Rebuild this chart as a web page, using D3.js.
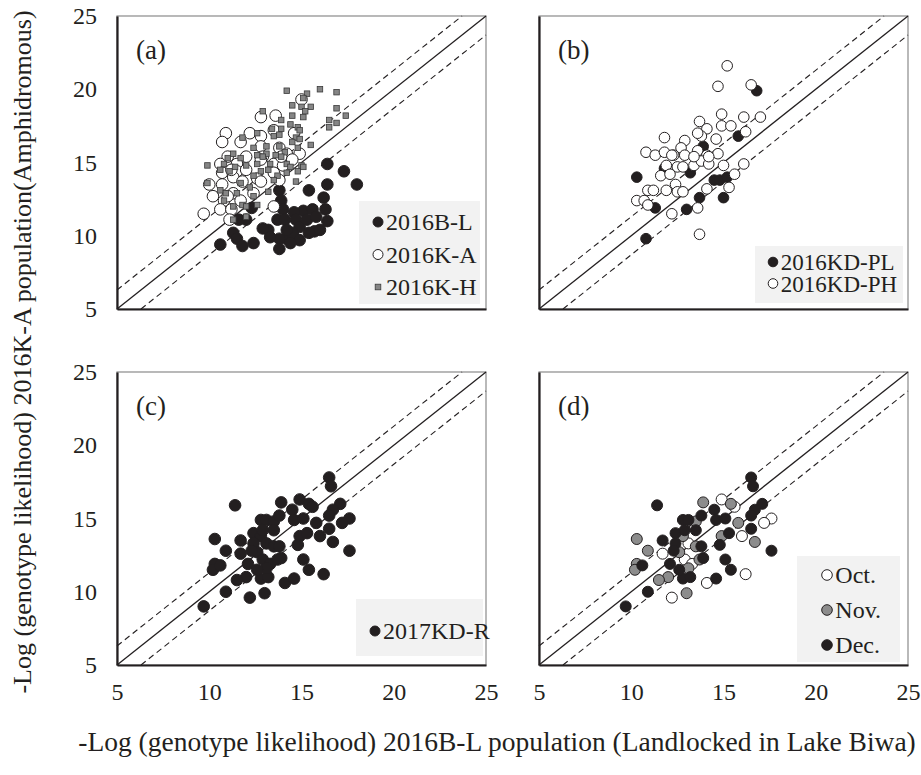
<!DOCTYPE html>
<html>
<head>
<meta charset="utf-8">
<script src="https://cdn.jsdelivr.net/npm/d3@7"></script>
<style>
body { margin: 0; background: #fff; }
text { font-family: "Liberation Serif", "Times New Roman", serif; fill: #231f20; }
</style>
</head>
<body>
<svg id="chart" width="921" height="775"></svg>
<script>
// axis values shared by every panel
var ticks = [5, 10, 15, 20, 25]
var domain = [5, 25]
var band = 1.3   // dashed lines at y = x +/- band

// (a) 2016B-L, 2016K-A, 2016K-H
var a_BL = [[16.4,14.9],[17.3,14.4],[18.0,13.5],[16.4,13.5],[15.4,13.1],[13.8,13.1],[13.9,12.4],[16.2,12.6],
  [16.3,11.8],[15.1,11.7],[14.6,11.6],[15.6,11.8],[12.3,11.9],[14.0,11.8],[13.7,11.1],[14.1,11.1],[13.2,10.4],
  [14.7,11.1],[14.9,10.6],[15.3,11.1],[16.4,11.0],[15.7,10.3],[15.4,10.2],[14.6,9.9],[14.2,9.8],[13.8,9.8],
  [13.3,9.9],[12.9,10.5],[12.0,11.1],[11.6,11.1],[11.3,10.2],[11.5,9.8],[11.8,9.3],[12.4,9.5],[10.6,9.4],
  [13.8,9.1],[14.5,10.2],[16.0,10.4],[14.9,9.7],[14.4,9.5],[14.2,10.4],[15.8,11.3]]
var a_KA = [[15.0,19.3],[12.8,18.1],[13.6,18.2],[10.9,17.0],[12.2,17.0],[10.7,16.4],[11.7,16.4],[12.8,16.8],
  [13.5,17.2],[14.6,17.0],[12.8,16.1],[13.8,16.0],[14.9,15.6],[14.2,15.6],[12.0,15.4],[11.0,15.4],[10.6,14.9],
  [11.5,14.9],[11.5,14.4],[12.0,14.5],[12.9,15.4],[13.5,14.9],[14.0,14.8],[10.7,14.3],[11.3,14.0],[12.6,13.9],
  [13.5,14.3],[10.0,13.5],[10.7,13.5],[11.3,12.9],[10.2,12.7],[10.8,12.4],[11.7,12.4],[9.7,11.5],[10.6,11.8],
  [11.2,11.8],[11.1,11.1],[13.5,12.0],[12.8,13.7],[11.8,13.7],[11.0,12.7],[12.4,12.9],[13.8,13.8],[13.9,15.4],
  [12.8,15.2],[11.2,14.5],[14.5,15.2]]
var a_KH = [[14.2,19.9],[15.3,19.7],[16.0,20.0],[16.9,19.8],[15.1,19.4],[14.5,18.9],[15.0,18.8],[15.5,18.8],
  [15.2,18.5],[12.9,18.5],[14.5,18.2],[15.1,18.1],[16.9,18.7],[17.4,18.2],[16.5,17.9],[16.5,17.4],[16.9,17.7],
  [13.9,17.9],[14.4,17.6],[14.8,17.4],[13.4,17.3],[13.9,17.3],[14.9,17.2],[12.6,17.0],[13.5,16.8],[11.8,16.7],
  [13.8,16.9],[14.7,16.7],[14.9,16.6],[14.5,16.4],[15.5,16.2],[12.4,16.0],[13.1,16.1],[13.8,16.1],[14.1,15.7],
  [14.8,16.0],[12.6,15.5],[13.1,15.6],[13.6,15.5],[13.9,15.4],[12.9,15.4],[11.3,15.6],[11.7,15.3],[11.0,15.3],
  [12.0,14.8],[12.6,14.9],[13.3,14.9],[14.2,14.9],[14.4,14.7],[15.0,14.8],[9.9,14.8],[10.8,14.9],[11.1,14.4],
  [10.6,14.5],[12.8,14.4],[13.2,14.5],[13.7,14.1],[14.2,14.3],[14.8,14.4],[11.7,13.6],[12.2,13.3],[9.9,13.6],
  [10.6,13.1],[10.9,12.9],[11.5,12.9],[12.4,12.7],[13.2,13.0],[10.8,12.4],[11.8,12.1],[12.6,12.1],[12.0,12.0],
  [11.3,12.0],[11.3,11.1],[12.0,11.3],[14.7,13.7],[13.5,13.8],[15.1,14.7],[12.4,14.1],[11.4,14.7]]

// (b) 2016KD-PL, 2016KD-PH
var b_PL = [[16.8,19.9],[15.8,16.8],[13.9,16.1],[11.8,14.6],[13.2,14.3],[10.3,14.0],[14.5,13.8],[14.8,13.8],
  [15.2,14.0],[13.7,12.6],[15.0,12.6],[11.3,11.9],[13.0,11.8],[10.8,9.8]]
var b_PH = [[15.2,21.6],[14.7,20.2],[16.5,20.3],[14.9,18.3],[16.1,18.1],[17.0,18.1],[13.7,17.8],[14.1,17.3],
  [14.9,17.5],[15.4,17.5],[16.2,17.1],[13.8,16.8],[14.6,16.6],[11.8,16.7],[12.9,16.5],[12.7,16.0],[10.8,15.7],
  [11.3,15.5],[11.8,15.7],[12.3,15.5],[12.9,15.5],[13.6,15.8],[14.1,15.5],[14.7,15.6],[11.9,14.8],[12.5,14.7],
  [12.8,14.7],[13.4,14.8],[13.8,15.1],[14.2,14.9],[15.0,14.8],[16.1,14.9],[15.6,14.2],[11.6,14.1],[12.1,14.2],
  [12.4,13.5],[11.9,13.1],[12.5,13.0],[12.8,13.0],[10.9,13.1],[11.2,13.1],[10.3,12.4],[10.7,12.4],[10.9,12.1],
  [14.1,13.2],[15.3,13.3],[12.2,11.5],[13.6,11.9],[13.7,10.1],[14.2,15.4],[13.4,15.4],[12.2,15.5],[13.6,17.0]]

// (c) 2017KD-R, and (d) the same fish split by sampling month
var c_R = [[16.5,17.8],[16.6,17.2],[11.4,15.9],[13.9,16.1],[14.9,16.3],[15.4,16.0],[15.6,15.8],[14.5,15.6],
  [12.8,14.9],[13.1,14.9],[13.5,14.8],[13.8,15.2],[17.1,16.0],[16.7,15.6],[17.6,15.0],[16.5,15.2],[14.6,14.9],
  [15.1,15.0],[15.8,14.7],[16.5,14.3],[16.0,13.8],[14.9,13.8],[15.3,14.0],[14.8,13.2],[16.7,13.4],[17.6,12.8],
  [10.3,13.6],[11.7,13.5],[12.4,14.0],[12.8,13.8],[13.1,13.3],[12.4,13.3],[13.5,13.1],[13.8,13.1],[10.9,12.8],
  [11.7,12.6],[12.1,11.9],[12.6,12.7],[12.9,12.2],[13.3,11.9],[13.9,12.3],[10.3,11.9],[10.2,11.5],[10.6,11.8],
  [15.1,12.2],[15.4,11.5],[16.2,11.2],[12.0,11.0],[12.8,10.9],[13.2,11.0],[11.5,10.8],[14.1,10.6],[14.6,10.9],
  [10.9,10.0],[12.2,9.6],[13.0,9.9],[9.7,9.0],[13.1,11.6],[12.6,11.5],[13.5,14.2],[12.9,14.2],[12.3,12.8],
  [13.7,12.2],[17.2,14.7]]
var d_month = ["Dec.","Dec.","Dec.","Nov.","Oct.","Nov.","Oct.","Dec.",
  "Dec.","Dec.","Nov.","Dec.","Dec.","Dec.","Oct.","Dec.","Dec.",
  "Dec.","Nov.","Dec.","Oct.","Nov.","Dec.","Dec.","Nov.","Dec.",
  "Nov.","Dec.","Dec.","Nov.","Oct.","Dec.","Nov.","Dec.","Nov.",
  "Oct.","Dec.","Nov.","Oct.","Oct.","Dec.","Nov.","Nov.","Dec.",
  "Dec.","Dec.","Oct.","Nov.","Dec.","Dec.","Nov.","Oct.","Dec.",
  "Dec.","Oct.","Nov.","Dec.","Nov.","Dec.","Dec.","Dec.","Dec.",
  "Nov.","Oct."]
var months = ["Oct.", "Nov.", "Dec."]

var dark = "#231f20"
var monthFill = {"Oct.": "#fff", "Nov.": "#8c8c8c", "Dec.": dark}

var svg = d3.select("#chart")
var pw = 369, ph = 293
// panel origins (window.top is read-only, so no "top" here)
var colX = [117, 539], rowY = [16, 372]

function makePanel(px, py, letter, showX, showY) {
  var g = svg.append("g").attr("transform", "translate(" + px + "," + py + ")")
  var x = d3.scaleLinear().domain(domain).range([0, pw])
  var y = d3.scaleLinear().domain(domain).range([ph, 0])

  g.append("rect")
    .attr("width", pw).attr("height", ph)
    .attr("fill", "#fff").attr("stroke", "#8a8a8a").attr("stroke-width", 1.2)

  // 1:1 line and the two dashed limits
  g.append("line")
    .attr("x1", x(5)).attr("y1", y(5)).attr("x2", x(25)).attr("y2", y(25))
    .attr("stroke", dark).attr("stroke-width", 1.3)
  g.append("line")
    .attr("x1", x(5)).attr("y1", y(5 + band)).attr("x2", x(25 - band)).attr("y2", y(25))
    .attr("stroke", dark).attr("stroke-width", 1.1).attr("stroke-dasharray", "6,4")
  g.append("line")
    .attr("x1", x(5 + band)).attr("y1", y(5)).attr("x2", x(25)).attr("y2", y(25 - band))
    .attr("stroke", dark).attr("stroke-width", 1.1).attr("stroke-dasharray", "6,4")

  g.append("text")
    .attr("x", 19).attr("y", 43)
    .style("font-size", "27px")
    .text(letter)

  var gx = g.append("g").attr("transform", "translate(0," + ph + ")")
    .call(d3.axisBottom(x).tickValues(ticks).tickSize(0).tickPadding(18))
  gx.select(".domain").attr("stroke", dark).attr("stroke-width", 2.2)
  gx.selectAll("text").style("font-size", "24px").attr("fill", dark)
  if (!showX) gx.selectAll(".tick").remove()

  var gy = g.append("g")
    .call(d3.axisLeft(y).tickValues(ticks).tickSize(0).tickPadding(20))
  gy.select(".domain").attr("stroke", dark).attr("stroke-width", 2.2)
  gy.selectAll("text").style("font-size", "24px").attr("fill", dark)
  if (!showY) gy.selectAll(".tick").remove()

  return {g: g, x: x, y: y}
}

function dots(p, data, r, fill) {
  p.g.append("g").selectAll("circle")
    .data(data)
    .join("circle")
    .attr("cx", function(d) { return p.x(d[0]) })
    .attr("cy", function(d) { return p.y(d[1]) })
    .attr("r", r)
    .attr("fill", fill)
    .attr("stroke", dark)
    .attr("stroke-width", 1)
}

function squares(p, data, s) {
  p.g.append("g").selectAll("rect")
    .data(data)
    .join("rect")
    .attr("x", function(d) { return p.x(d[0]) - s / 2 })
    .attr("y", function(d) { return p.y(d[1]) - s / 2 })
    .attr("width", s).attr("height", s)
    .attr("fill", "#858585")
    .attr("stroke", "#3a3a3a")
    .attr("stroke-width", 0.8)
}

// legend: box = [x, y, w, h] inside the panel
function legend(p, box, rows, y0, step, mx, r, fs) {
  var g = p.g.append("g")
  g.append("rect")
    .attr("x", box[0]).attr("y", box[1]).attr("width", box[2]).attr("height", box[3])
    .attr("fill", "#f2f2f2")
  rows.forEach(function(row, i) {
    var cy = y0 + i * step
    if (row.kind == "square") {
      g.append("rect")
        .attr("x", mx - 2.8).attr("y", cy - 2.8).attr("width", 5.6).attr("height", 5.6)
        .attr("fill", "#858585").attr("stroke", "#3a3a3a").attr("stroke-width", 0.8)
    } else {
      g.append("circle")
        .attr("cx", mx).attr("cy", cy).attr("r", r)
        .attr("fill", row.fill).attr("stroke", dark).attr("stroke-width", 1)
    }
    g.append("text")
      .attr("x", mx + r + 3).attr("y", cy).attr("dy", "0.35em")
      .style("font-size", fs + "px")
      .text(row.label)
  })
}

var pa = makePanel(colX[0], rowY[0], "(a)", false, true)
dots(pa, a_BL, 5.8, dark)
dots(pa, a_KA, 5.8, "#fff")
squares(pa, a_KH, 5.5)
legend(pa, [242, 185, 121, 103], [
  {label: "2016B-L", fill: dark},
  {label: "2016K-A", fill: "#fff"},
  {label: "2016K-H", kind: "square"}], 206, 32.5, 261, 5, 24)

var pb = makePanel(colX[1], rowY[0], "(b)", false, false)
dots(pb, b_PL, 5.3, dark)
dots(pb, b_PH, 5.3, "#fff")
legend(pb, [216, 230, 148, 57], [
  {label: "2016KD-PL", fill: dark},
  {label: "2016KD-PH", fill: "#fff"}], 246, 21.5, 234, 4.8, 23)

var pc = makePanel(colX[0], rowY[1], "(c)", true, true)
dots(pc, c_R, 5.8, dark)
legend(pc, [239, 227, 127, 57], [{label: "2017KD-R", fill: dark}], 259, 0, 258, 5, 24)

var pd = makePanel(colX[1], rowY[1], "(d)", true, false)
months.forEach(function(m) {
  var sub = c_R.filter(function(d, i) { return d_month[i] == m })
  dots(pd, sub, 5.5, monthFill[m])
})
legend(pd, [258, 184, 103, 106], months.map(function(m) {
  return {label: m, fill: monthFill[m]}
}), 203, 35, 288, 5.3, 24)

// axis titles
svg.append("text")
  .attr("x", 497).attr("y", 751)
  .attr("text-anchor", "middle")
  .style("font-size", "27.5px")
  .text("-Log (genotype likelihood) 2016B-L population (Landlocked in Lake Biwa)")

svg.append("text")
  .attr("transform", "translate(31,352) rotate(-90)")
  .attr("text-anchor", "middle")
  .style("font-size", "26px")
  .text("-Log (genotype likelihood) 2016K-A population(Amphidromous)")
</script>
</body>
</html>
